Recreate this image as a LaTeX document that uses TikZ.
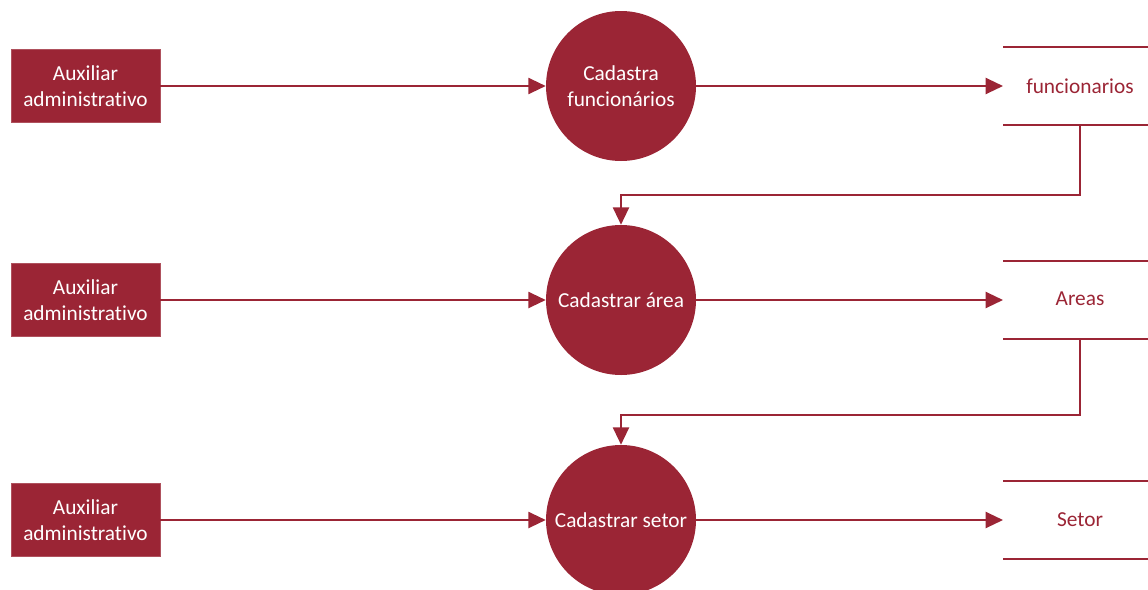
\documentclass[tikz,border=0pt]{standalone}
\usepackage{fontspec}
\setmainfont{Carlito}[Ligatures=CommonOff]
\usetikzlibrary{arrows.meta}
\definecolor{dred}{HTML}{9B2535}
\begin{document}
\begin{tikzpicture}[x=0.75pt,y=-0.75pt,
  lbl/.style={font=\fontsize{16}{19.5}\selectfont},
  actor/.style={lbl,fill=dred,draw=dred!80!white,line width=0.6pt,minimum width=149*0.75pt,minimum height=73*0.75pt,
    text=white,align=center,inner sep=0pt},
  proc/.style={lbl,circle,fill=dred,minimum size=150*0.75pt,inner sep=0pt,text=white,align=center},
  store/.style={lbl,minimum width=145*0.75pt,minimum height=77*0.75pt,inner sep=0pt,text=dred},
  stext/.style={lbl,text=dred,inner sep=0pt},
  flow/.style={draw=dred,line width=1.6pt,-{Triangle[length=13pt,width=12pt]}},
  sline/.style={draw=dred,line width=1.6pt}]
\useasboundingbox (0,0) rectangle (1148,589);
% row 1
\node[actor] (a1) at (85.5,86) {Auxiliar\\administrativo};
\node[proc] (p1) at (621,86) {Cadastra\\funcionários};
\node[store,anchor=west] (s1) at (1003,86) {};
% row 2
\node[actor] (a2) at (85.5,300) {Auxiliar\\administrativo};
\node[proc] (p2) at (621,300) {Cadastrar área};
\node[store,anchor=west] (s2) at (1003,300) {};
% row 3
\node[actor] (a3) at (85.5,520) {Auxiliar\\administrativo};
\node[proc] (p3) at (621,520) {Cadastrar setor};
\node[store,anchor=west] (s3) at (1003,520) {};
\node[stext] (t1) at (1080,86) {funcionarios};
\node[stext] (t2) at (1080,299) {Areas};
\node[stext] (t3) at (1080,520) {Setor};
% store lines
\foreach \s in {s1,s2,s3}{
  \draw[sline] (\s.north west) -- (\s.north east);
  \draw[sline] (\s.south west) -- (\s.south east);
}
% flows
\draw[flow] (a1.east) -- (p1.west);
\draw[flow] (a2.east) -- (p2.west);
\draw[flow] (a3.east) -- (p3.west);
\draw[flow] (p1.east) -- (s1.west);
\draw[flow] (p2.east) -- (s2.west);
\draw[flow] (p3.east) -- (s3.west);
\coordinate (c1) at ([xshift=77*0.75pt]s1.south west);
\coordinate (c2) at ([xshift=77*0.75pt]s2.south west);
\draw[flow] (c1) -- ++(0,70) -| (p2.north);
\draw[flow] (c2) -- ++(0,76) -| (p3.north);
\end{tikzpicture}
\end{document}
